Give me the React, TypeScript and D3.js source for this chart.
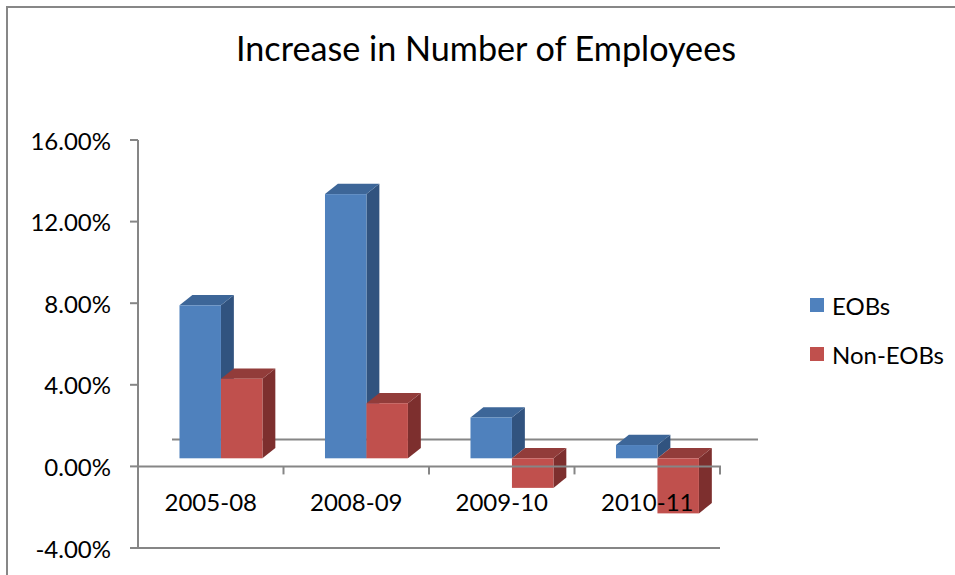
import React from "react";
import * as d3 from "d3";

const categories = ["2005-08", "2008-09", "2009-10", "2010-11"];
const seriesNames = ["EOBs", "Non-EOBs"];
const eobs = [7.5, 12.95, 2.0, 0.65];
const nonEobs = [3.9, 2.7, -1.45, -2.7];
const yTicks = [-4, 0, 4, 8, 12, 16];
const title = "Increase in Number of Employees";

const W = 955;
const H = 575;
const FONT = "Lato, 'Open Sans', sans-serif";

const colors = {
  EOBs: { front: "#4F81BD", top: "#3D6698", side: "#31537F" },
  "Non-EOBs": { front: "#C0504D", top: "#923C3A", side: "#7D2F2E" },
};

const fmtPct = (t: number) => (t < 0 ? "-" : "") + Math.abs(t).toFixed(2) + "%";

export default function App() {
  const x0 = 138, x1 = 720;
  const y = d3.scaleLinear().domain([-4, 16]).range([548, 140]);
  const xBand = d3.scaleBand<string>().domain(categories).range([x0, x1]).padding(0);
  const step = xBand.bandwidth();
  const inner = d3
    .scaleBand<string>()
    .domain(seriesNames)
    .range([step * 0.215, step * 0.785])
    .padding(0);
  const depthX = 34, depthY = -27;
  const f1 = 0.3, f2 = 0.68;
  const fx = depthX * f1, fy = depthY * f1;
  const bx = depthX * (f2 - f1), by = depthY * (f2 - f1);

  const data = [eobs, nonEobs];

  const bars: React.ReactNode[] = [];
  categories.forEach((c, ci) => {
    seriesNames.forEach((s, si) => {
      const v = data[si][ci];
      const col = (colors as any)[s];
      const xl = (xBand(c) as number) + (inner(s) as number) + fx;
      const xr = xl + inner.bandwidth();
      const yTop = y(Math.max(0, v)) + fy;
      const yBot = y(Math.min(0, v)) + fy;
      const top = `M${xl},${yTop} L${xl + bx},${yTop + by} L${xr + bx},${yTop + by} L${xr},${yTop} Z`;
      const side = `M${xr},${yTop} L${xr + bx},${yTop + by} L${xr + bx},${yBot + by} L${xr},${yBot} Z`;
      bars.push(
        <g key={c + s}>
          <path d={side} fill={col.side} />
          <path d={top} fill={col.top} />
          <rect x={xl} y={yTop} width={xr - xl} height={yBot - yTop} fill={col.front} />
        </g>
      );
    });
  });

  const axisColor = "#868686";
  const zeroY = y(0);

  return (
    <svg
      width={W}
      height={H}
      style={{ position: "absolute", left: 0, top: 0, background: "#fff" }}
      fontFamily={FONT}
    >
      <rect x={0} y={0} width={W} height={H} fill="#fff" />
      <path d={`M7,${H} V7 H${W}`} fill="none" stroke="#878787" strokeWidth={2} />
      <text
        x={486}
        y={61}
        textAnchor="middle"
        fontSize={34}
        fill="#000"
        textLength={500}
        lengthAdjust="spacingAndGlyphs"
      >
        {title}
      </text>

      {/* back wall zero line */}
      <line x1={x0 + depthX} x2={x1 + depthX + 4} y1={zeroY + depthY} y2={zeroY + depthY} stroke={axisColor} strokeWidth={2} />

      {bars}

      {/* value axis */}
      <line x1={x0} x2={x0} y1={y(16)} y2={y(-4)} stroke={axisColor} strokeWidth={2} />
      {yTicks.map((t) => (
        <g key={t}>
          <line x1={x0 - 8} x2={x0} y1={y(t)} y2={y(t)} stroke={axisColor} strokeWidth={2} />
          <text x={111} y={y(t)} textAnchor="end" dominantBaseline="central" fontSize={24} fill="#000">
            {fmtPct(t)}
          </text>
        </g>
      ))}
      {/* floor line at bottom */}
      <line x1={x0} x2={x1} y1={y(-4)} y2={y(-4)} stroke={axisColor} strokeWidth={2} />
      {/* category axis at zero */}
      <line x1={x0} x2={x1 + 1} y1={zeroY} y2={zeroY} stroke={axisColor} strokeWidth={2} />
      {categories.map((c) => (
        <line
          key={"t" + c}
          x1={(xBand(c) as number) + step}
          x2={(xBand(c) as number) + step}
          y1={zeroY}
          y2={zeroY + 8}
          stroke={axisColor}
          strokeWidth={2}
        />
      ))}
      {categories.map((c) => (
        <text
          key={"l" + c}
          x={(xBand(c) as number) + step / 2}
          y={501}
          textAnchor="middle"
          dominantBaseline="central"
          fontSize={24}
          fill="#000"
        >
          {c}
        </text>
      ))}

      {/* legend */}
      {seriesNames.map((s, i) => (
        <g key={"lg" + s}>
          <rect x={810} y={298 + i * 49} width={14} height={14} fill={(colors as any)[s].front} />
          <text x={832} y={305 + i * 49} dominantBaseline="central" fontSize={24} fill="#000">
            {s}
          </text>
        </g>
      ))}
    </svg>
  );
}
